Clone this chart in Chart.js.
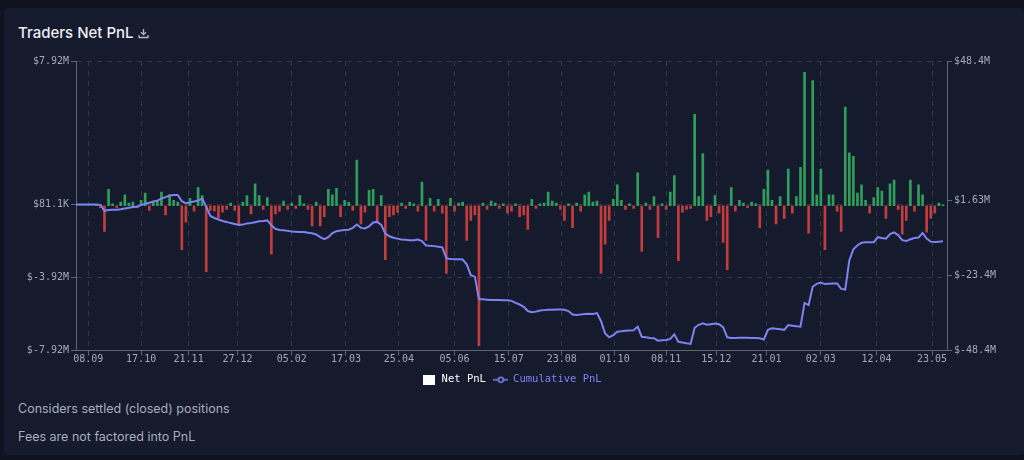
<!DOCTYPE html>
<html>
<head>
<meta charset="utf-8">
<script src="https://cdn.jsdelivr.net/npm/chart.js@4.4.0/dist/chart.umd.min.js"></script>
<style>
  body { margin: 0; width: 1024px; height: 460px; overflow: hidden; background: #10131f; font-family: Inter, "Noto Sans", sans-serif; }
  #card { position: absolute; left: 4px; top: 8px; width: 1020px; height: 447px; background: #151a2c; border-radius: 4px; }
  #title { position: absolute; left: 18px; top: 24px; font-size: 15px; line-height: 18px; font-weight: 500; color: #eceef3; }
  #title svg { vertical-align: -1px; margin-left: 4px; }
  #wrap { position: absolute; left: 0; top: 50px; width: 1024px; height: 345px; }
  .note { position: absolute; left: 18px; font-size: 12.5px; line-height: 16px; color: #a9adba; }
</style>
</head>
<body>
<div id="card"></div>
<div id="title">Traders Net PnL<svg width="11" height="11" viewBox="0 0 11 11"><path d="M5.5 1v5.5M3 4.2l2.5 2.5 2.5-2.5M1 7v2.5h9V7" fill="none" stroke="#b3b7c3" stroke-width="1.3"/></svg></div>
<div id="wrap"><canvas id="chart"></canvas></div>
<div class="note" style="top:401px">Considers settled (closed) positions</div>
<div class="note" style="top:429px">Fees are not factored into PnL</div>
<script>
// one sample every 3 days, starting 30.08.2021, values in $M
var startDate = '2021-08-30';
var stepDays = 3;

var netPnl = [
  0, 0, 0, 0, 0, 0.05, -0.1, -1.4, 0.9, 0.1,
  -0.1, 0.2, 0.6, 0.15, 0.2, -0.1, 0.3, 0.7, -0.25, 0.2,
  0.3, 0.75, -0.5, 0.6, 0.3, 0.2, -2.4, -0.9, 0.4, -0.3,
  1.0, 0.55, -3.6, -0.25, -0.3, -0.65, -0.35, -0.2, 0.15, -0.25,
  -1.0, 0.2, 0.55, -0.45, 1.2, 0.55, -0.2, 0.45, -2.65, -0.45,
  -0.3, 0.25, -0.2, 0.15, -0.15, 0.55, 0.1, -0.2, -1.1, 0.2,
  -1.1, -0.6, 0.9, 0.6, 0.95, -0.6, 0.3, 0.2, -0.25, 2.5,
  -1.0, -0.35, 0.85, 0.9, -0.85, 0.55, -2.95, -0.6, -0.5, -0.35,
  0.15, -0.15, 0.2, 0.1, -0.3, 1.3, -1.9, 0.4, -0.3, 0.35,
  -0.4, -3.7, 0.4, -0.3, 0.15, 0.2, -1.9, -0.8, -0.5, -7.65,
  0.15, -0.2, 0.25, 0.15, -0.15, 0.1, -0.4, -0.3, 0.1, -0.6,
  -0.5, -1.3, 0.35, -0.15, 0.1, 0.15, 0.75, 0.25, 0.15, -0.2,
  -0.8, 0.1, -1.2, 0.15, -0.3, 0.6, 0.75, 0.2, 0.25, -3.7,
  -2.1, -0.8, 0.35, 1.15, 0.3, -0.2, 0.1, -0.15, 1.8, -2.5,
  0.15, -0.2, 0.5, -1.75, 0.1, -0.2, 0.75, 1.65, -3.0, -0.35,
  -0.2, -0.15, 5.0, 0.5, 2.85, -0.8, -0.6, 0.55, -0.4, -2.0,
  -3.5, 1.0, -0.3, 0.3, 0.15, -0.1, 0.2, 0.1, -1.2, 0.9,
  1.95, 0.3, -1.0, 0.5, -0.7, 2.0, -0.4, 0.5, 2.1, 7.3,
  -1.5, 6.85, 0.6, 2.0, -2.4, 0.6, 0.6, -0.3, -1.4, 5.4,
  2.9, 2.7, 0.7, 1.15, 0.3, -0.4, 0.45, 1.0, 0.8, -0.7,
  1.2, 1.4, -0.2, -1.55, -0.8, 1.4, -0.3, 1.15, 0.6, -1.45,
  -0.7, -0.4, 0.15, 0.05
];

var cumulativePnl = [
  0.4, 0.4, 0.4, 0.4, 0.4, 0.4, 0.3, -1.7, -1.4, -1.3,
  -1.3, -1.2, -0.9, -0.7, -0.4, -0.3, 0.2, 0.7, 1.0, 1.4,
  1.7, 2.4, 2.9, 3.4, 3.6, 3.6, 1.5, 0.8, 1.2, 1.4,
  1.7, 2.4, -0.3, -3.4, -4.1, -4.6, -5.1, -5.4, -5.8, -6.1,
  -6.4, -6.3, -5.9, -5.8, -5.5, -5.2, -5.1, -4.9, -6.5, -7.7,
  -8.1, -8.2, -8.4, -8.6, -8.7, -8.8, -8.8, -9.0, -9.2, -9.6,
  -10.5, -11.2, -10.5, -9.1, -8.5, -8.3, -8.1, -8.0, -7.4, -6.3,
  -7.4, -7.6, -6.9, -5.6, -5.4, -6.4, -9.3, -10.2, -10.7, -11.0,
  -11.3, -11.4, -11.5, -11.5, -11.3, -11.8, -13.3, -13.4, -13.5, -13.7,
  -13.9, -17.6, -17.8, -17.9, -17.9, -18.0, -19.6, -23.2, -23.7, -31.3,
  -31.3, -31.4, -31.5, -31.5, -31.5, -31.6, -31.6, -31.8, -32.5, -33.0,
  -33.8, -35.2, -35.6, -35.4, -35.0, -34.9, -34.8, -34.8, -34.7, -34.7,
  -34.8, -35.2, -36.4, -36.5, -36.4, -36.2, -36.1, -36.2, -35.9, -38.6,
  -42.7, -44.0, -43.3, -42.1, -42.0, -41.8, -41.7, -41.6, -40.4, -43.8,
  -44.0, -44.2, -44.3, -45.1, -45.0, -44.9, -44.5, -43.0, -45.5, -45.7,
  -46.0, -46.2, -40.8, -39.8, -39.3, -39.8, -39.6, -39.4, -39.6, -40.6,
  -44.0, -44.2, -44.2, -44.1, -44.1, -44.1, -44.2, -44.2, -44.3, -44.7,
  -41.5, -41.0, -41.1, -41.3, -41.5, -39.9, -40.1, -40.3, -40.4, -32.5,
  -33.2, -27.1, -26.1, -25.7, -26.2, -26.1, -26.0, -26.0, -27.8, -28.0,
  -18.3, -14.6, -13.2, -12.4, -12.2, -12.2, -12.2, -10.5, -10.8, -11.0,
  -9.5, -8.9, -9.8, -11.5, -11.8, -11.2, -10.8, -10.6, -9.1, -11.0,
  -12.0, -12.1, -12.0, -11.9
];

var xTickDates = ['2021-09-08', '2021-10-17', '2021-11-21', '2021-12-27', '2022-02-05', '2022-03-17',
  '2022-04-25', '2022-06-05', '2022-07-15', '2022-08-23', '2022-10-01', '2022-11-08',
  '2022-12-15', '2023-01-21', '2023-03-02', '2023-04-12', '2023-05-23'];

var leftTicks = [7.92, 0.0811, -3.92, -7.92];
var leftTickLabels = ['$7.92M', '$81.1K', '$-3.92M', '$-7.92M'];
var rightTicks = [48.4, 1.63, -23.4, -48.4];
var rightTickLabels = ['$48.4M', '$1.63M', '$-23.4M', '$-48.4M'];

var green = '#2f9e5c';
var red = '#c23d3d';
var lineColor = '#7d83f2';
var tickText = '#a3a8b8';
var axisColor = '#5f6474';
var gridColor = '#323849';
var mono = '"DejaVu Sans Mono", monospace';

function dayOf(iso) {
  return Math.round((Date.parse(iso) - Date.parse(startDate)) / 86400000);
}

var barPoints = netPnl.map(function(v, i) { return { x: i * stepDays, y: v }; });
var linePoints = cumulativePnl.map(function(v, i) { return { x: i * stepDays, y: v }; });

// legend symbols
var boxImg = document.createElement('canvas');
boxImg.width = 12; boxImg.height = 10;
var bctx = boxImg.getContext('2d');
bctx.fillStyle = '#ffffff';
bctx.fillRect(0, 0, 12, 10);

var lineImg = document.createElement('canvas');
lineImg.width = 15; lineImg.height = 8;
var lctx = lineImg.getContext('2d');
lctx.strokeStyle = lineColor;
lctx.lineWidth = 1.5;
lctx.beginPath(); lctx.moveTo(0, 4); lctx.lineTo(15, 4); lctx.stroke();
lctx.fillStyle = '#151a2c';
lctx.beginPath(); lctx.arc(7.5, 4, 2.5, 0, Math.PI * 2); lctx.fill(); lctx.stroke();

var ctx = document.getElementById('chart');
new Chart(ctx, {
  type: 'bar',
  data: {
    datasets: [{
      type: 'line',
      label: 'Cumulative PnL',
      data: linePoints,
      yAxisID: 'y1',
      borderColor: lineColor,
      borderWidth: 2,
      pointRadius: 0,
      fill: false,
      tension: 0,
      order: 0
    }, {
      label: 'Net PnL',
      data: barPoints,
      yAxisID: 'y',
      backgroundColor: function(c) { return c.raw && c.raw.y < 0 ? red : green; },
      barThickness: 2,
      order: 1
    }]
  },
  options: {
    responsive: true,
    maintainAspectRatio: false,
    animation: false,
    layout: { padding: { top: 11, left: 0, right: 0, bottom: 0 } },
    scales: {
      x: {
        type: 'linear',
        offset: false,
        min: 0,
        max: netPnl.length * stepDays,
        afterBuildTicks: function(s) {
          s.ticks = xTickDates.map(function(d) { return { value: dayOf(d) }; });
        },
        afterFit: function(s) { s.height = 16; },
        ticks: {
          autoSkip: false, maxRotation: 0, color: tickText, padding: -2,
          font: { family: mono, size: 10 },
          callback: function(v, i) { var d = xTickDates[i]; return d.slice(8, 10) + '.' + d.slice(5, 7); }
        },
        grid: { offset: false, color: gridColor, tickColor: axisColor, tickLength: 5, tickBorderDash: [] },
        border: { display: true, color: axisColor, dash: [5, 5] }
      },
      y: {
        position: 'left',
        min: -7.92, max: 7.92,
        afterBuildTicks: function(s) { s.ticks = leftTicks.map(function(v) { return { value: v }; }); },
        afterFit: function(s) { s.width = 76; },
        ticks: {
          color: tickText, padding: 2, font: { family: mono, size: 10 },
          callback: function(v, i) { return leftTickLabels[i]; }
        },
        grid: { color: gridColor, tickColor: axisColor, tickLength: 5, tickBorderDash: [] },
        border: { display: true, color: axisColor, dash: [5, 5] }
      },
      y1: {
        position: 'right',
        min: -48.4, max: 48.4,
        afterBuildTicks: function(s) { s.ticks = rightTicks.map(function(v) { return { value: v }; }); },
        afterFit: function(s) { s.width = 77; },
        ticks: {
          color: tickText, padding: 2, font: { family: mono, size: 10 },
          callback: function(v, i) { return rightTickLabels[i]; }
        },
        grid: { drawOnChartArea: false, tickColor: axisColor, tickLength: 5 },
        border: { display: true, color: axisColor }
      }
    },
    plugins: {
      tooltip: { enabled: false },
      legend: {
        position: 'bottom',
        labels: {
          usePointStyle: true,
          pointStyleWidth: 14,
          boxHeight: 11,
          padding: 8,
          font: { family: mono, size: 10.5 },
          generateLabels: function() {
            return [
              { text: 'Net PnL', pointStyle: boxImg, fontColor: '#ffffff', fillStyle: '#ffffff', strokeStyle: '#ffffff', lineWidth: 0, hidden: false, datasetIndex: 1 },
              { text: 'Cumulative PnL', pointStyle: lineImg, fontColor: lineColor, fillStyle: lineColor, strokeStyle: lineColor, lineWidth: 0, hidden: false, datasetIndex: 0 }
            ];
          }
        }
      }
    }
  }
});
</script>
</body>
</html>
